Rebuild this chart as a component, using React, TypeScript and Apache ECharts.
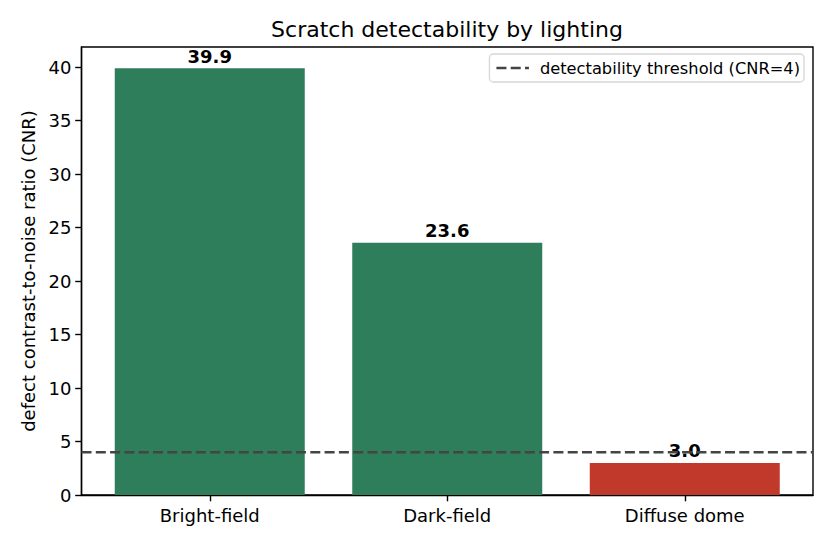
import React, { useEffect, useRef } from "react";
import * as echarts from "echarts";

const categories = ["Bright-field", "Dark-field", "Diffuse dome"];
const cnrValues = [39.9, 23.6, 3.0];
const barColors = ["#2e7d5b", "#2e7d5b", "#c0392b"];
const threshold = 4;
const yTicks = [0, 5, 10, 15, 20, 25, 30, 35, 40];
const legendName = "detectability threshold (CNR=4)";

export default function App() {
  const ref = useRef<HTMLDivElement>(null);
  useEffect(() => {
    if (!ref.current) return;
    const chart = echarts.init(ref.current, undefined, { renderer: "svg" });
    const font = "DejaVu Sans";
    const xMin = -0.54;
    const xMax = categories.length - 1 + 0.54;
    const yMax = Math.max(...cnrValues) * 1.05;
    const xIdx = categories.map((_, i) => i);
    chart.setOption({
      animation: false,
      textStyle: { fontFamily: font },
      title: {
        text: "Scratch detectability by lighting",
        left: 447,
        textAlign: "center",
        top: 18,
        padding: 0,
        textStyle: { fontFamily: font, fontSize: 22, fontWeight: "normal", color: "#000" },
      },
      legend: {
        right: 28,
        top: 54,
        orient: "vertical",
        data: [
          {
            name: legendName,
            icon: "path://M0,0H10V2.7H0Z M14.3,0H24.3V2.7H14.3Z M28.6,0H32.5V2.7H28.6Z",
            itemStyle: { color: "#444" },
          },
        ],
        itemWidth: 32.5,
        itemHeight: 2.7,
        itemGap: 6,
        padding: [6, 4, 6, 7],
        borderColor: "#d6d6d6",
        borderWidth: 1.3,
        borderRadius: 4,
        backgroundColor: "rgba(255,255,255,0.8)",
        textStyle: { fontFamily: font, fontSize: 16.25, color: "#000", padding: [0, 0, 0, 6] },
      },
      grid: {
        left: 81.5,
        right: 19,
        top: 47,
        bottom: 51,
        show: true,
        borderColor: "#000",
        borderWidth: 1.4,
        backgroundColor: "transparent",
      },
      xAxis: {
        type: "value",
        min: xMin,
        max: xMax,
        splitLine: { show: false },
        axisLine: { show: true, onZero: false, lineStyle: { color: "#000", width: 1.4 } },
        axisTick: { show: true, length: 6.3, customValues: xIdx, lineStyle: { color: "#000", width: 1.4 } },
        axisLabel: {
          customValues: xIdx,
          formatter: (v: number) => categories[Math.round(v)] ?? "",
          fontFamily: font,
          fontSize: 18,
          color: "#000",
          margin: 11,
        },
      },
      yAxis: {
        type: "value",
        min: 0,
        max: yMax,
        name: "defect contrast-to-noise ratio (CNR)",
        nameLocation: "middle",
        nameGap: 42,
        nameTextStyle: { fontFamily: font, fontSize: 18, color: "#000" },
        splitLine: { show: false },
        axisLine: { show: true, onZero: false, lineStyle: { color: "#000", width: 1.4 } },
        axisTick: { show: true, length: 6.3, customValues: yTicks, lineStyle: { color: "#000", width: 1.4 } },
        axisLabel: {
          customValues: yTicks,
          fontFamily: font,
          fontSize: 18,
          color: "#000",
          margin: 10,
        },
      },
      series: [
        {
          type: "bar",
          name: "CNR",
          barWidth: 190,
          data: cnrValues.map((v, i) => ({
            value: [i, v],
            itemStyle: { color: barColors[i] },
          })),
          label: {
            show: true,
            position: "top",
            distance: 3,
            formatter: (p: any) => p.value[1].toFixed(1),
            fontFamily: font,
            fontSize: 18,
            fontWeight: "bold",
            color: "#000",
          },
          z: 2,
        },
        {
          type: "line",
          name: legendName,
          data: [
            [xMin, threshold],
            [xMax, threshold],
          ],
          symbol: "none",
          lineStyle: { color: "#444", width: 2.7, type: [10, 4.3] },
          itemStyle: { color: "#444" },
          z: 5,
          silent: true,
        },
      ],
    });
    return () => chart.dispose();
  }, []);
  return (
    <div
      ref={ref}
      style={{ position: "absolute", left: 0, top: 0, width: 832, height: 546 }}
    />
  );
}
